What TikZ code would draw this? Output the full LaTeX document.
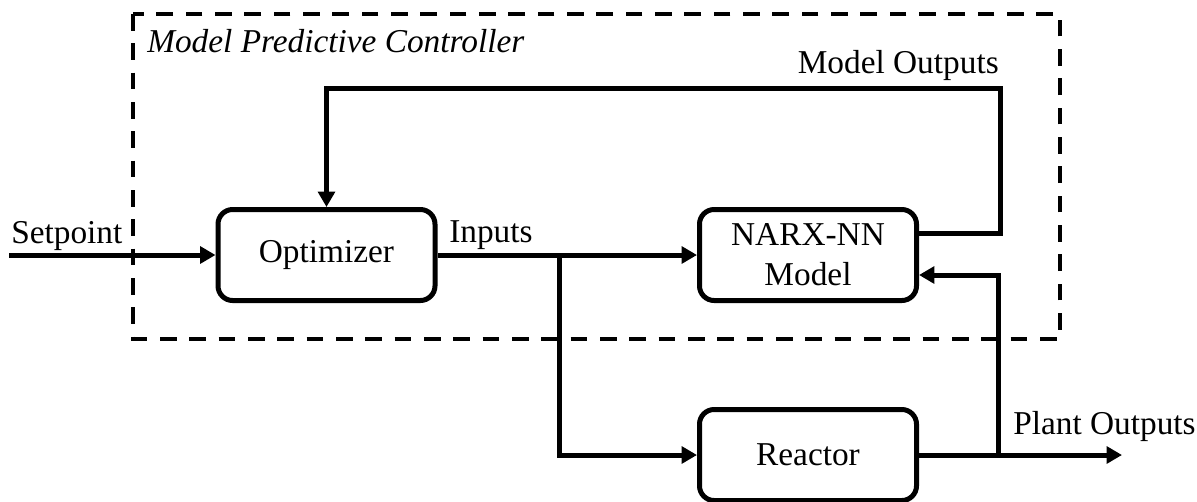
\documentclass[tikz,border=0pt]{standalone}
\usepackage{fontspec}
\setmainfont{Liberation Serif}
\usepackage{tikz}
\usetikzlibrary{arrows.meta}

\begin{document}
\begin{tikzpicture}[x=0.75pt,y=0.75pt,yscale=-1,xscale=1,
    every node/.style={font=\fontsize{25}{30}\selectfont},
    block/.style={draw, line width=3.75pt, rounded corners=11pt, inner sep=0pt,
                  minimum width=162.75pt, minimum height=68.25pt, align=center},
    link/.style={line width=3.75pt},
    arr/.style={link, -{Triangle[length=11.5pt,width=12.5pt]}},
    mpcline/.style={line width=3.2pt, dash pattern=on 12.5pt off 9.5pt}]
    \useasboundingbox (0,0) rectangle (1197,501);

    %Shape: Dashed Rectangle [MPC]
    \draw[mpcline] (133,14) rectangle (1060,339) ;

    %Shape: Blocks
    \node[block] (opt) at (326.5,255) {Optimizer};
    \node[block] (narx) at (808,255) {NARX-NN\\Model};
    \node[block] (reac) at (808,455) {Reactor};

    %Coordinates
    \coordinate (sp) at (9,255);
    \coordinate (br) at (559,255);
    \coordinate (mo) at (1000,233);
    \coordinate (motop) at (1000,88);
    \coordinate (pobr) at (998,455);
    \coordinate (fb) at (998,275);
    \coordinate (po) at (1122,455);

    %Straight Lines
    \draw[arr] (sp) -- (opt.west) ;
    \draw[arr] (opt.east) -- (narx.west) ;
    \draw[arr] (br) |- (reac.west) ;
    \draw[arr] (narx.east |- mo) -- (mo) -- (motop) -| (opt.north) ;
    \draw[arr] (reac.east) -- (po) ;
    \draw[arr] (pobr) -- (fb) -- (narx.east |- fb) ;

    % Text Node
    \node[anchor=base west, inner sep=0pt] (mpclabel) at (147,52) {\itshape Model Predictive Controller};
    % Text Node
    \node[anchor=base west, inner sep=0pt] (splabel) at (11,243) {Setpoint};
    % Text Node
    \node[anchor=base west, inner sep=0pt] (inlabel) at (449,242) {Inputs};
    % Text Node
    \node[anchor=base east, inner sep=0pt] (molabel) at (999,73) {Model Outputs};
    % Text Node
    \node[anchor=base west, inner sep=0pt] (polabel) at (1013,434) {Plant Outputs};

\end{tikzpicture}
\end{document}
